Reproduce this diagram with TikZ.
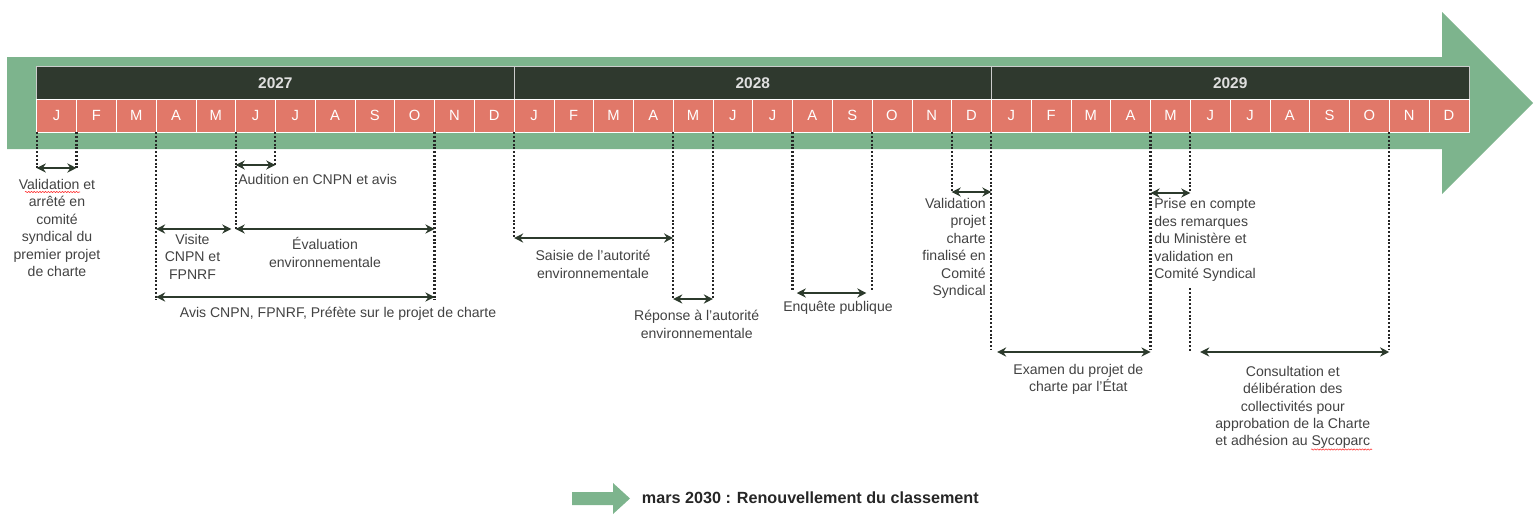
\documentclass[tikz,border=0pt]{standalone}
\usepackage{fontspec}
\setmainfont{Liberation Sans}
\usepackage{xcolor}
\usetikzlibrary{arrows.meta,decorations.pathmorphing}
\definecolor{arrowgreen}{RGB}{125,180,141}
\definecolor{yeardark}{RGB}{47,57,46}
\definecolor{monthred}{RGB}{225,120,105}
\definecolor{notegray}{RGB}{66,66,66}
\definecolor{spangreen}{RGB}{44,58,44}
\newcommand{\notefont}{\fontsize{10}{12.4}\selectfont}
\newcommand{\monthfont}{\fontsize{10.5}{12}\selectfont}
\newcommand{\yearfont}{\fontsize{11}{13}\selectfont\bfseries}
\newcommand{\legendfont}{\fontsize{11.5}{13}\selectfont\bfseries}

\begin{document}
\begin{tikzpicture}[x=0.025cm,y=-0.025cm,line join=round,
    tick/.style={line width=1.5pt,draw=black!85,dash pattern=on 1.4pt off 1.3pt},
    span/.style={{Stealth[length=6.5pt,width=6.5pt]}-{Stealth[length=6.5pt,width=6.5pt]},
      line width=1.7pt,spangreen},
    note/.style={font=\notefont,text=notegray,inner sep=0pt}]
  \useasboundingbox (0,0) rectangle (1540,514);
  \fill[arrowgreen] (7,57) -- (1442,57) -- (1442,12) -- (1533,103)
    -- (1442,194) -- (1442,149) -- (7,149) -- cycle;
  \foreach \yr [count=\y from 0] in {2027,2028,2029} {
    \draw[gray!40,fill=yeardark] ({36.7+477.4*\y},66.7) rectangle ++(477.4,32.6);
    \node[font=\yearfont,text=gray!25] (y\yr) at ({36.7+477.4*(\y+0.5)},83) {\yr};
    \foreach \m [count=\i from 0] in {J,F,M,A,M,J,J,A,S,O,N,D} {
      \draw[white,fill=monthred] ({36.7+39.78*(12*\y+\i)},99.3) rectangle ++(39.78,33);
      \node[font=\monthfont,text=white] (m\y-\i)
        at ({36.7+39.78*(12*\y+\i+0.5)},115.8) {\m};
    }
  }
  \foreach \k in {0,...,36}
    \coordinate (t\k) at ({36.7+39.78*\k},132.3);
  \foreach \k/\d in {0/168,1/168,3/300,5/229,6/165,10/300,12/238,16/299,17/299,
      19/290,21/290,23/192,24/350,28/350,29/193,34/350}
    \draw[tick] (t\k) -- (t\k |- 0,\d);
  \draw[tick] (t29 |- 0,288) -- (t29 |- 0,352);
  \foreach \a/\b/\h in {0/1/168,5/6/165,5/10/229,3/10/297,12/16/238,16/17/299,
      23/24/192,28/29/193}
    \draw[span] (t\a |- 0,\h) -- (t\b |- 0,\h);
  \draw[span,shorten >=3pt] (t3 |- 0,229) -- (t5 |- 0,229);
  \draw[span,shorten <=3pt,shorten >=4pt] (t19 |- 0,293) -- (t21 |- 0,293);
  \draw[span,shorten <=4pt] (t24 |- 0,352) -- (t28 |- 0,352);
  \draw[span,shorten <=7pt] (t29 |- 0,352) -- (t34 |- 0,352);
  \node[note,align=center,anchor=north] (validnote) at (57,179)
    {Validation et\\arrêté en\\comité\\syndical du\\premier projet\\de charte};
  \node[note,anchor=north west] (auditionnote) at (238,174) {Audition en CNPN et avis};
  \node[note,align=center,anchor=north] (visitenote) at (192.5,234) {Visite\\CNPN et\\FPNRF};
  \node[note,align=center,anchor=north] (evalnote) at (325,237.5)
    {Évaluation\\environnementale};
  \node[note,anchor=north] (avisnote) at (338,307)
    {Avis CNPN, FPNRF, Préfète sur le projet de charte};
  \node[note,align=center,anchor=north] (saisienote) at (593,250)
    {Saisie de l’autorité\\environnementale};
  \node[note,align=center,anchor=north] (reponsenote) at (696.7,310)
    {Réponse à l’autorité\\environnementale};
  \node[note,anchor=north] (enquetenote) at (838,300.7) {Enquête publique};
  \node[note,align=right,anchor=north east] (finalnote) at (986,198)
    {Validation\\projet\\charte\\finalisé en\\Comité\\Syndical};
  \node[note,align=left,anchor=north west] (prisenote) at (1154,198.3)
    {Prise en compte\\des remarques\\du Ministère et\\validation en\\Comité Syndical};
  \node[note,align=center,anchor=north] (examennote) at (1078.3,364)
    {Examen du projet de\\charte par l’État};
  \node[note,align=center,anchor=north] (consultnote) at (1292.8,365.7)
    {Consultation et\\délibération des\\collectivités pour\\approbation de la Charte\\et adhésion au Sycoparc};
  \draw[red!80,line width=0.4pt,decorate,decoration={snake,amplitude=0.5pt,segment length=2pt}]
    (25,192) -- (80,192);
  \draw[red!80,line width=0.4pt,decorate,decoration={snake,amplitude=0.5pt,segment length=2pt}]
    (1311,449.5) -- (1372,449.5);
  \fill[arrowgreen] (572,492) -- (613,492) -- (613,483) -- (630,498.5)
    -- (613,514) -- (613,505) -- (572,505) -- cycle;
  \node[font=\legendfont,text=black!85,anchor=west] (renewal) at (637,498)
    {mars 2030 : Renouvellement du classement};
\end{tikzpicture}
\end{document}
